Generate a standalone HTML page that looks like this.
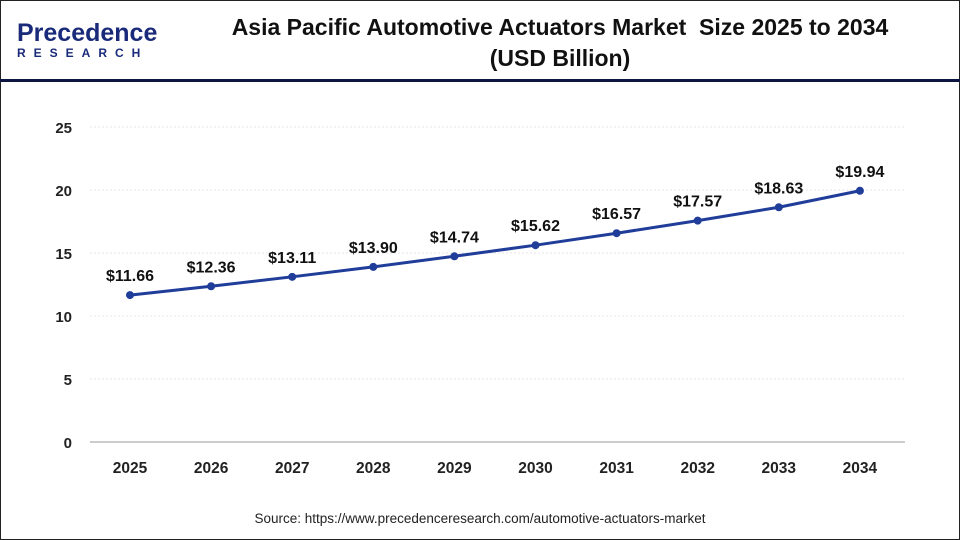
<!DOCTYPE html>
<html><head><meta charset="utf-8"><style>
body{margin:0;width:960px;height:540px;overflow:hidden;background:#fff;font-family:"Liberation Sans",Arial,sans-serif}
#frame{position:absolute;left:0;top:0;width:958px;height:538px;border:1px solid #222}
#hdr-line{position:absolute;left:0;top:79px;width:960px;height:3px;background:#0d1640}
#title{position:absolute;left:170px;width:780px;top:12px;text-align:center;font-weight:bold;font-size:23px;line-height:31px;color:#111}
#logo{position:absolute;left:17px;top:20px}
#src{position:absolute;left:0;width:960px;top:511px;text-align:center;font-size:13.5px;color:#222}
</style></head><body>
<div id="frame"></div>
<div id="logo">
<div style="font-size:25px;color:#1a2a7a;font-weight:bold;line-height:26px">Precedence</div>
<div style="font-size:12px;color:#1a2a7a;font-weight:bold;letter-spacing:8px;line-height:14px">RESEARCH</div>
</div>
<div id="title">Asia Pacific Automotive Actuators Market&nbsp; Size 2025 to 2034<br>(USD Billion)</div>
<div id="hdr-line"></div>
<svg id="chart" width="960" height="540" style="position:absolute;left:0;top:0"></svg>
<div id="src">Source: https://www.precedenceresearch.com/automotive-actuators-market</div>
<script>
const categories=["2025","2026","2027","2028","2029","2030","2031","2032","2033","2034"];
const values=[11.66,12.36,13.11,13.90,14.74,15.62,16.57,17.57,18.63,19.94];
const valueLabels=["$11.66","$12.36","$13.11","$13.90","$14.74","$15.62","$16.57","$17.57","$18.63","$19.94"];
const yTicks=[0,5,10,15,20,25];
const NS="http://www.w3.org/2000/svg";
const svg=document.getElementById('chart');
const y=v=>442-v*12.6;
const x=i=>130+i*81.1;
function mk(t,a){const e=document.createElementNS(NS,t);for(const k in a)e.setAttribute(k,a[k]);svg.appendChild(e);return e;}
yTicks.forEach(t=>{
 if(t>0){const g=mk('line',{x1:90,x2:905,y1:y(t),y2:y(t),stroke:'#e4e4e4','stroke-width':1,'stroke-dasharray':'2,2'});
 
 }
 const l=mk('text',{x:72,y:y(t)+6,'text-anchor':'end','font-size':15,'font-weight':'bold',fill:'#222'});
 l.textContent=t;
 
 
});
const ax=mk('line',{x1:90,x2:905,y1:442,y2:442,stroke:'#999','stroke-width':1});


categories.forEach((c,i)=>{
 const l=mk('text',{x:x(i),y:473,'text-anchor':'middle','font-size':15.5,'font-weight':'bold',fill:'#222'});
 l.textContent=c;
 
 
});
const line=mk('polyline',{points:values.map((v,i)=>x(i)+','+y(v)).join(' '),fill:'none',stroke:'#1f3d99','stroke-width':3});


values.forEach((v,i)=>{
 const p=mk('circle',{cx:x(i),cy:y(v),r:4,fill:'#1f3d99'});
 
 
 const l=mk('text',{x:x(i),y:y(v)-14,'text-anchor':'middle','font-size':16,'font-weight':'bold',fill:'#111'});
 l.textContent=valueLabels[i];
 
 
});
</script>
</body></html>
